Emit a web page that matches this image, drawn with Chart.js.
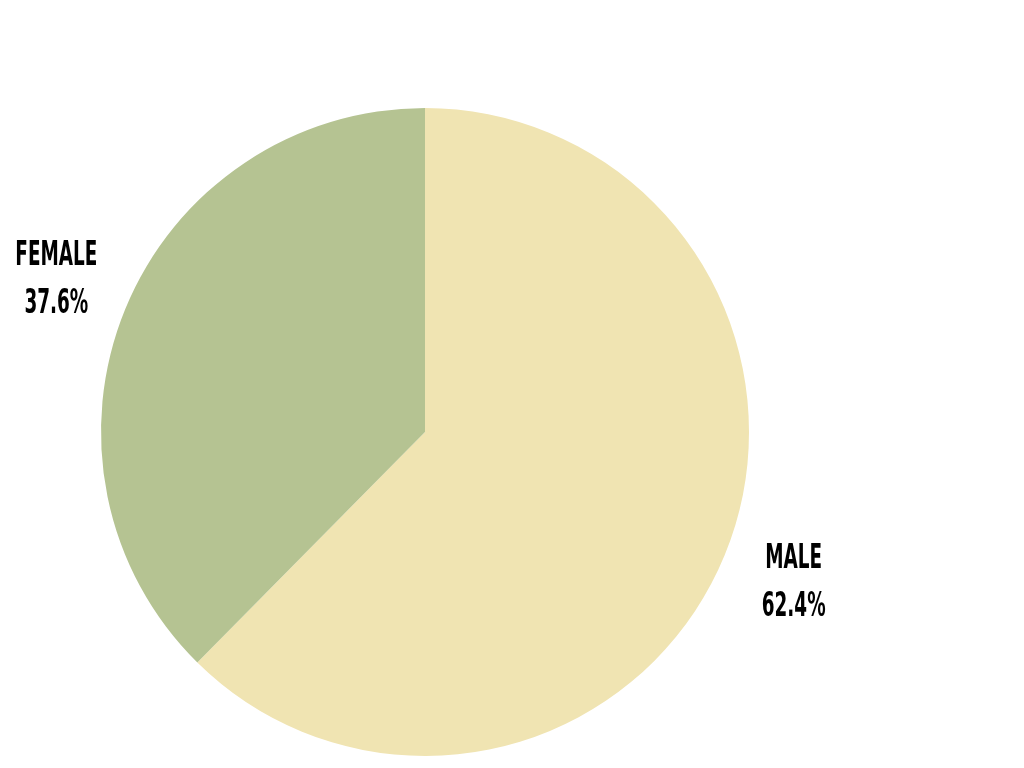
<!DOCTYPE html>
<html>
<head>
<meta charset="utf-8">
<script src="https://cdn.jsdelivr.net/npm/chart.js@4"></script>
<style>
  html, body { margin: 0; padding: 0; background: #fff; }
  #wrap { width: 1024px; height: 768px; }
</style>
</head>
<body>
<div id="wrap"><canvas id="pie"></canvas></div>
<script>
var categories = ['Male', 'Female'];
var shares = [62.4, 37.6];
var sliceColors = ['#f0e4b2', '#b5c392'];

// outside labels, drawn along each slice's mid angle
var outsideLabels = {
  id: 'outsideLabels',
  afterDatasetsDraw: function (chart) {
    var ctx = chart.ctx;
    var meta = chart.getDatasetMeta(0);
    ctx.save();
    ctx.fillStyle = '#000';
    ctx.textAlign = 'center';
    ctx.textBaseline = 'middle';
    ctx.font = 'bold 33px "DejaVu Sans Condensed", "DejaVu Sans", sans-serif';
    meta.data.forEach(function (arc, i) {
      var mid = (arc.startAngle + arc.endAngle) / 2;
      var r = arc.outerRadius * 1.23;
      var x = arc.x + Math.cos(mid) * r;
      var y = arc.y + Math.sin(mid) * r;
      var lines = [categories[i].toUpperCase(), shares[i].toFixed(1) + '%'];
      lines.forEach(function (t, j) {
        ctx.save();
        ctx.translate(x, y - 24 + j * 48);
        ctx.scale(0.62, 1);
        ctx.fillText(t, 0, 0);
        ctx.restore();
      });
    });
    ctx.restore();
  }
};

new Chart(document.getElementById('pie'), {
  type: 'pie',
  data: {
    labels: categories,
    datasets: [{
      data: shares,
      backgroundColor: sliceColors,
      borderWidth: 0
    }]
  },
  options: {
    responsive: true,
    maintainAspectRatio: false,
    animation: false,
    layout: { padding: { left: 101, right: 275, top: 108, bottom: 12 } },
    plugins: {
      legend: { display: false },
      tooltip: { enabled: false }
    }
  },
  plugins: [outsideLabels]
});
</script>
</body>
</html>
